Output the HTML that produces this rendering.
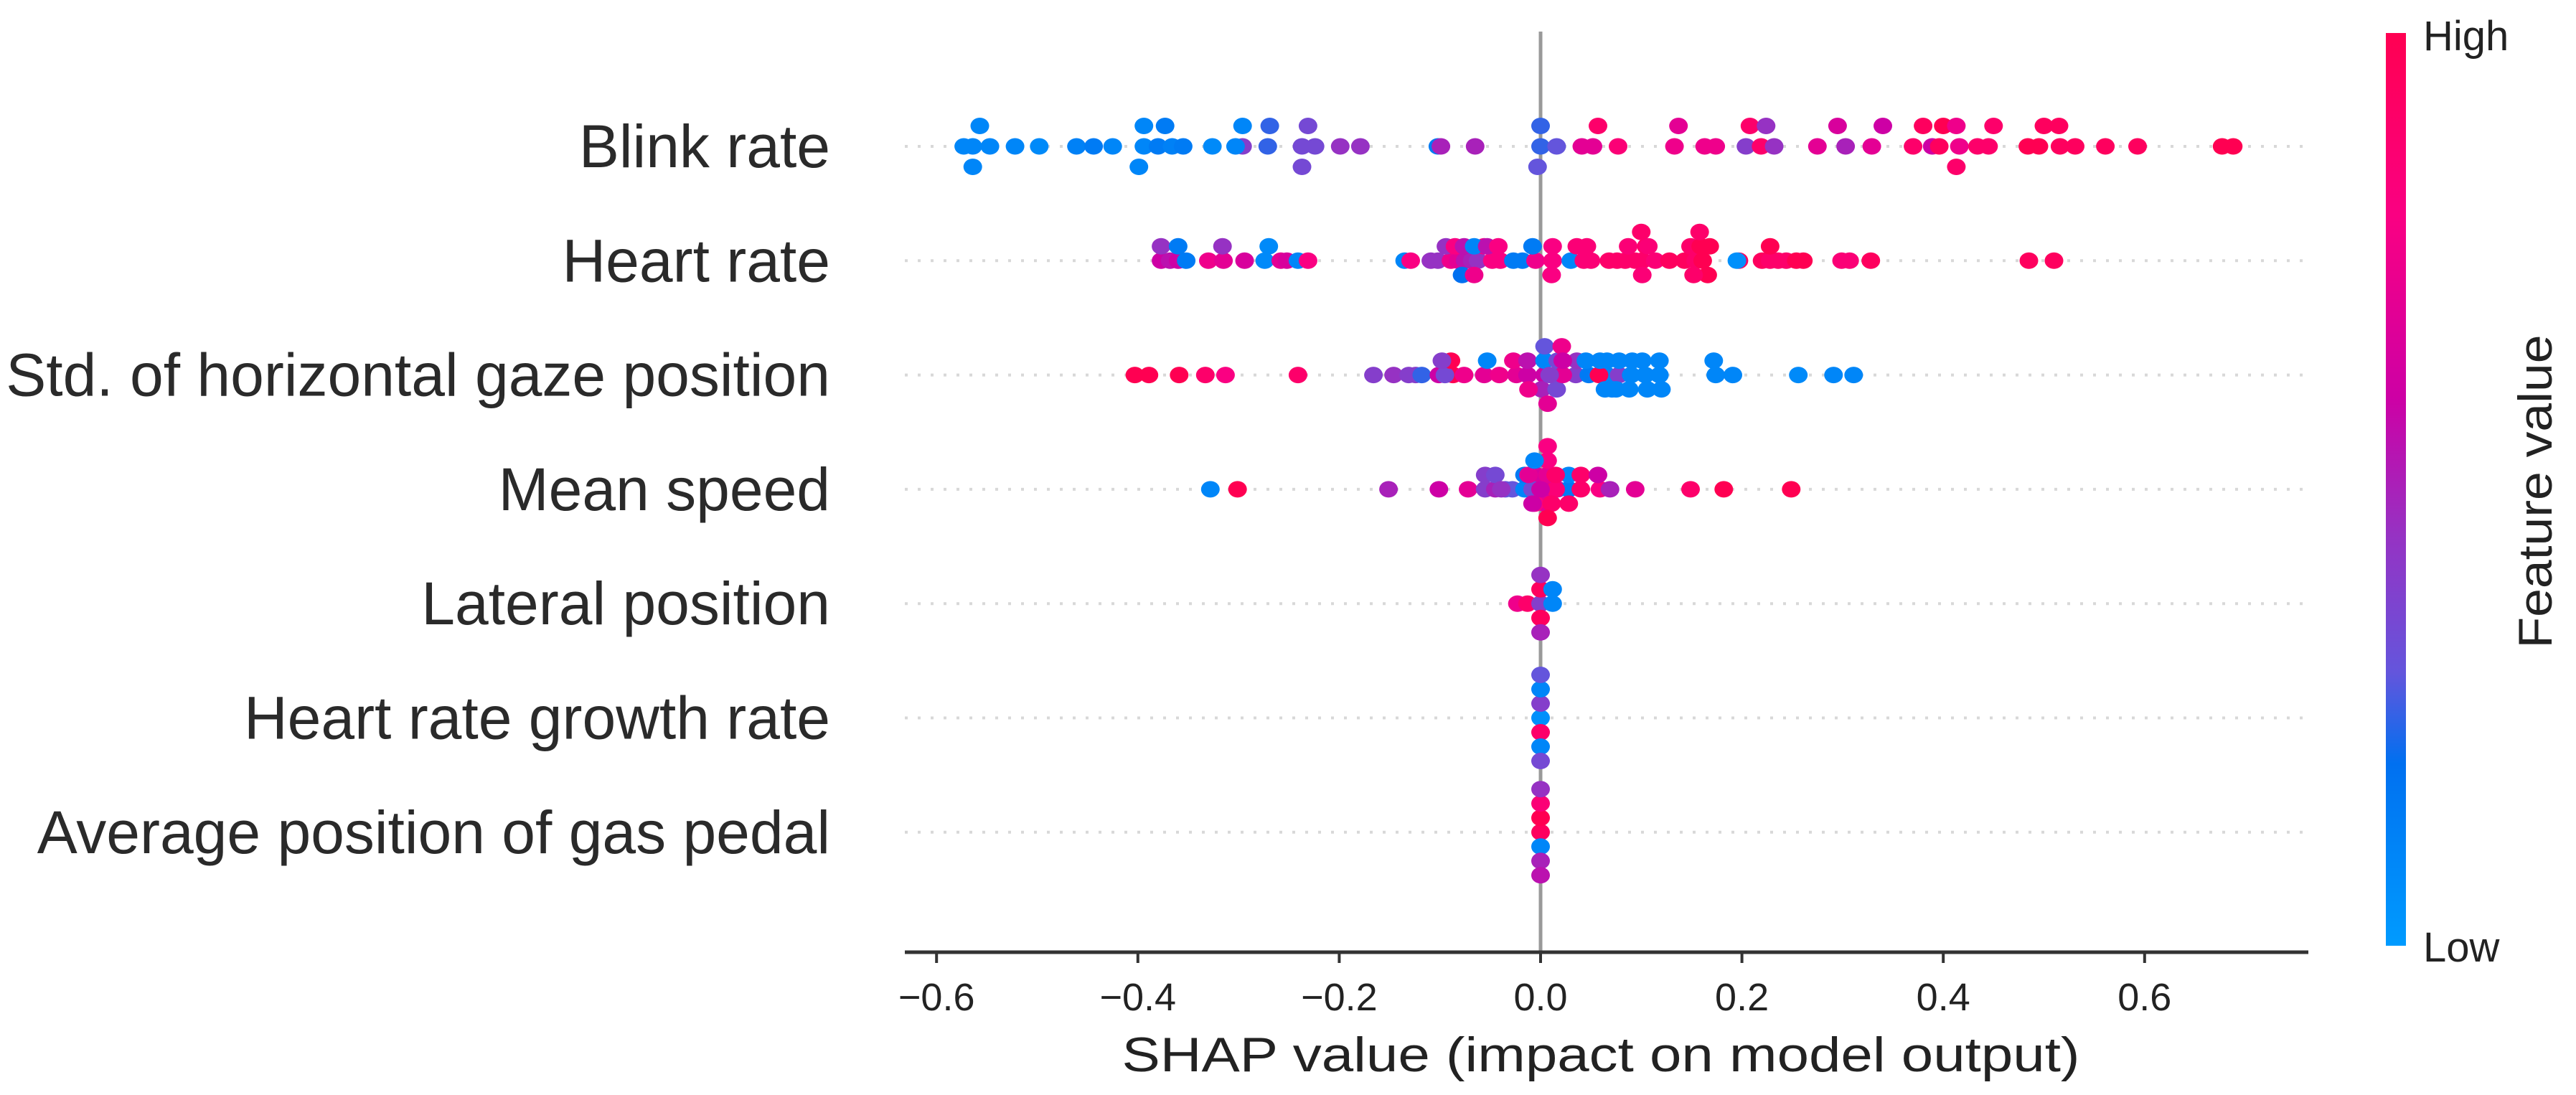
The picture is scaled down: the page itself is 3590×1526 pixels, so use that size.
<!DOCTYPE html>
<html><head><meta charset="utf-8"><title>SHAP summary plot</title>
<style>
html,body{margin:0;padding:0;background:#fff;}
svg{display:block;font-family:"Liberation Sans",sans-serif;}
</style></head>
<body>
<svg id="chart" width="3590" height="1526" viewBox="0 0 3590 1526" xmlns="http://www.w3.org/2000/svg">
<defs>
<linearGradient id="cbar" x1="0" y1="1" x2="0" y2="0">
<stop offset="0" stop-color="rgb(0,155,255)"/>
<stop offset="0.2" stop-color="rgb(0,112,240)"/>
<stop offset="0.3" stop-color="rgb(100,85,220)"/>
<stop offset="0.45" stop-color="rgb(150,50,195)"/>
<stop offset="0.6" stop-color="rgb(205,0,165)"/>
<stop offset="0.8" stop-color="rgb(250,0,130)"/>
<stop offset="1" stop-color="rgb(255,0,82)"/>
</linearGradient>
</defs>
<rect width="3590" height="1526" fill="#fff"/>
<g id="rowlines"></g>
<line x1="2147" y1="44" x2="2147" y2="1327" stroke="#999" stroke-width="5"/>
<g id="dots"></g>
<g id="ylabels"></g>
<g id="xaxis"></g>
<text x="2231" y="1493" font-size="68" text-anchor="middle" textLength="1335" lengthAdjust="spacingAndGlyphs" fill="#222">SHAP value (impact on model output)</text>
<rect x="3325" y="46" width="28" height="1272" fill="url(#cbar)"/>
<text x="3377" y="70" font-size="58" fill="#222">High</text>
<text x="3377" y="1340" font-size="58" fill="#222">Low</text>
<text x="0" y="0" font-size="66" fill="#222" text-anchor="middle" textLength="437" lengthAdjust="spacingAndGlyphs" transform="translate(3556,685) rotate(-90)">Feature value</text>
</svg>
<script>
const features = ["Blink rate","Heart rate","Std. of horizontal gaze position","Mean speed","Lateral position","Heart rate growth rate","Average position of gas pedal"];
const xTicks = [-0.6,-0.4,-0.2,0.0,0.2,0.4,0.6];
const xTickLabels = ["\u22120.6","\u22120.4","\u22120.2","0.0","0.2","0.4","0.6"];

const blinkShap = [-0.564,-0.557,-0.547,-0.522,-0.498,-0.461,-0.444,-0.425,-0.394,-0.380,-0.366,-0.355,-0.326,-0.296,-0.271,-0.237,-0.231,-0.224,-0.199,-0.179,-0.102,-0.065,0.0,0.016,0.041,0.052,0.077,
 -0.564,-0.394,-0.373,-0.303,-0.296,-0.269,-0.237,-0.099,0.0,0.057,-0.573,-0.399,-0.003,
 0.133,0.163,0.174,0.204,0.219,0.232,0.275,0.303,0.329,0.340,0.370,0.389,0.396,0.416,0.434,0.445,0.484,0.495,0.516,0.531,0.561,0.593,0.677,0.688,
 0.137,0.208,0.224,0.295,0.380,0.400,0.413,0.450,0.500,0.515,0.413];
const blinkFeat = [.1,.1,.1,.1,.08,.12,.15,.1,.1,.15,.12,.15,.08,.4,.25,.35,.35,.35,.45,.45,.15,.5,.25,.3,.7,.7,.85,
 .1,.1,.15,.1,.1,.25,.35,.5,.25,.9,.1,.1,.3,
 .75,.75,.75,.4,.9,.45,.7,.5,.7,.6,.9,.6,.95,.75,.9,.9,1,1,.95,.95,.95,.95,1,1,
 .7,.9,.45,.65,.95,1,.75,.9,.95,.95,.9];

const heartShap = [-0.377,-0.368,-0.360,-0.352,-0.330,-0.315,-0.294,-0.274,-0.270,-0.258,-0.252,-0.241,-0.231,-0.135,-0.129,-0.109,-0.102,-0.089,-0.082,-0.075,-0.068,-0.062,-0.056,-0.048,-0.040,-0.027,-0.018,-0.005,0.012,0.030,0.043,0.050,0.068,0.076,0.084,0.094,0.101,
 -0.377,-0.360,-0.316,-0.094,-0.085,-0.076,-0.066,-0.053,-0.042,-0.008,0.012,0.036,0.046,0.087,-0.078,-0.066,0.011,
 0.105,0.114,0.128,0.143,0.154,0.161,0.168,0.197,0.220,0.228,0.236,0.244,0.254,0.261,0.299,0.307,0.328,0.485,0.510,
 0.101,0.149,0.159,0.166,0.195,0.228,0.107,0.152,0.100,0.158];
const heartFeat = [.6,.55,.6,.15,.75,.7,.65,.08,.08,.7,.65,.1,.8,.1,.8,.45,.45,.75,.7,.55,.5,.45,.75,.8,.8,.15,.15,.75,.8,.1,.85,.85,.9,.9,.9,.9,.9,
 .45,.15,.45,.45,.8,.55,.1,.55,.8,.15,.8,.85,.85,.85,.2,.75,.8,
 .9,.85,.95,.95,.9,1,1,.95,.95,.9,.9,.9,1,1,.85,.85,.95,.95,.95,
 .85,.9,1,1,.05,1,.85,.9,.9,.9];

const gazeShap = [-0.403,-0.389,-0.359,-0.333,-0.313,-0.241,-0.166,-0.146,-0.131,-0.124,-0.118,-0.101,-0.087,-0.076,-0.056,-0.041,-0.024,-0.013,0.004,0.018,
 -0.095,-0.089,-0.053,-0.027,-0.013,0.004,0.017,0.001,-0.098,-0.012,0.004,0.016,
 0.007,0.021,0.035,0.048,0.066,0.078,0.090,0.104,0.118,0.174,0.191,0.256,0.291,0.311,
 0.022,0.036,0.045,0.058,0.066,0.078,0.101,0.118,0.172,0.059,0.071,0.091,0.009,0.022,0.064,0.075,0.106,0.120,0.088];
const gazeFeat = [1,1,1,.9,.8,.9,.4,.45,.4,.4,.25,.6,1,.75,.7,.75,.7,.6,.6,.35,
 .35,1,.1,.75,.55,.1,.35,.5,.4,.75,.3,.35,
 .7,.75,.4,.15,.1,.4,.1,.1,.1,.1,.1,.08,.1,.1,
 .7,.45,.1,1,.1,.1,.1,.1,.1,.1,.1,.1,.4,.6,.1,.1,.1,.1,.1];

const speedShap = [-0.328,-0.301,-0.151,-0.101,-0.072,-0.055,-0.045,-0.035,-0.028,-0.016,-0.003,0.007,0.017,0.028,0.040,0.059,0.069,0.094,0.149,0.182,0.249,
 -0.055,-0.045,-0.039,-0.016,-0.005,0.007,0.015,0.028,0.040,0.057,-0.008,0.004,0.015,-0.006,0.007,
 -0.012,0.0,0.011,0.028,-0.008,0.007,-0.006,0.007];
const speedFeat = [.1,1,.5,.6,.7,.4,.5,.3,.3,.1,.6,.65,.45,.15,.9,.8,.5,.7,.9,1,1,
 .4,.35,.45,.15,.65,.7,.85,.1,.9,.6,.35,.7,.9,.8,.8,
 .7,.6,.9,.9,.6,1,.1,.8];

const lateralShap = [-0.023,-0.013,0,0,0,0,0,0.012,0.012];
const lateralFeat = [.75,.9,.4,.95,.95,.45,.5,.1,.1];
const growthShap = [0,0,0,0,0,0,0];
const growthFeat = [.05,.4,.9,.1,.1,.3,.35];
const pedalShap = [0,0,0,0,0,0,0];
const pedalFeat = [.95,1,.1,.85,.5,.45,.55];

const shapRows = [blinkShap,heartShap,gazeShap,speedShap,lateralShap,growthShap,pedalShap];
const featRows = [blinkFeat,heartFeat,gazeFeat,speedFeat,lateralFeat,growthFeat,pedalFeat];

const NS = "http://www.w3.org/2000/svg";
const X0 = 2147, PX = 1403;           // x scale
const xScale = v => X0 + v*PX;
const ROW0 = 204, ROWGAP = 159.3;
const yScale = i => ROW0 + i*ROWGAP;
const stops = [[0,[0,155,255]],[0.2,[0,112,240]],[0.3,[100,85,220]],[0.45,[150,50,195]],[0.6,[205,0,165]],[0.8,[250,0,130]],[1,[255,0,82]]];
function cmap(t){
  t=Math.max(0,Math.min(1,t));
  for(let k=1;k<stops.length;k++){
    if(t<=stops[k][0]){
      const a=stops[k-1],b=stops[k],f=(t-a[0])/(b[0]-a[0]);
      const c=a[1].map((v,j)=>Math.round(v+(b[1][j]-v)*f));
      return `rgb(${c[0]},${c[1]},${c[2]})`;
    }
  }
  return "rgb(255,0,82)";
}
function mk(tag,attrs,parent){
  const e=document.createElementNS(NS,tag);
  for(const k in attrs) e.setAttribute(k,attrs[k]);
  parent.appendChild(e); return e;
}
const gLines=document.getElementById('rowlines');
const gDots=document.getElementById('dots');
const gLab=document.getElementById('ylabels');
const gX=document.getElementById('xaxis');

features.forEach((name,i)=>{
  const y=yScale(i);
  const ln=mk('line',{x1:1261,x2:3217,y1:y,y2:y,stroke:'#d8d8d8','stroke-width':4,'stroke-dasharray':'4 14'},gLines);
  
  
  const t=mk('text',{x:1157,y:y+29,'font-size':84,'text-anchor':'end',fill:'#2a2a2a'},gLab);
  t.textContent=name;
  
  

  // beeswarm layout (SHAP-style binning)
  const vals=shapRows[i], fv=featRows[i];
  const mn=Math.min(...vals), mx=Math.max(...vals);
  const quant=vals.map(v=>Math.round(100*(v-mn)/(mx-mn+1e-8)));
  const idx=vals.map((_,k)=>k).sort((a,b)=>quant[a]-quant[b]);
  const ys=new Array(vals.length).fill(0);
  let layer=0,last=-1;
  idx.forEach(k=>{
    if(quant[k]!==last) layer=0;
    ys[k]=Math.ceil(layer/2)*((layer%2)*2-1);
    layer++; last=quant[k];
  });
  const maxL=Math.max(...ys.map(Math.abs));
  const step=Math.max(20,57/(maxL+1));
  vals.forEach((v,k)=>{
    const d=mk('ellipse',{cx:xScale(v).toFixed(1),cy:(y-ys[k]*step).toFixed(1),rx:13,ry:11.5,fill:cmap(fv[k])},gDots);
    
    
  });
});

// x axis
const spine=mk('line',{x1:1261,x2:3217,y1:1327,y2:1327,stroke:'#333','stroke-width':5},gX);


xTicks.forEach((v,k)=>{
  const x=xScale(v);
  const tk=mk('line',{x1:x,x2:x,y1:1327,y2:1342,stroke:'#333','stroke-width':4},gX);
  
  
  const lbl=mk('text',{x:x,y:1408,'font-size':54,'text-anchor':'middle',fill:'#222'},gX);
  lbl.textContent=xTickLabels[k];
  
  
});
</script>
</body></html>
